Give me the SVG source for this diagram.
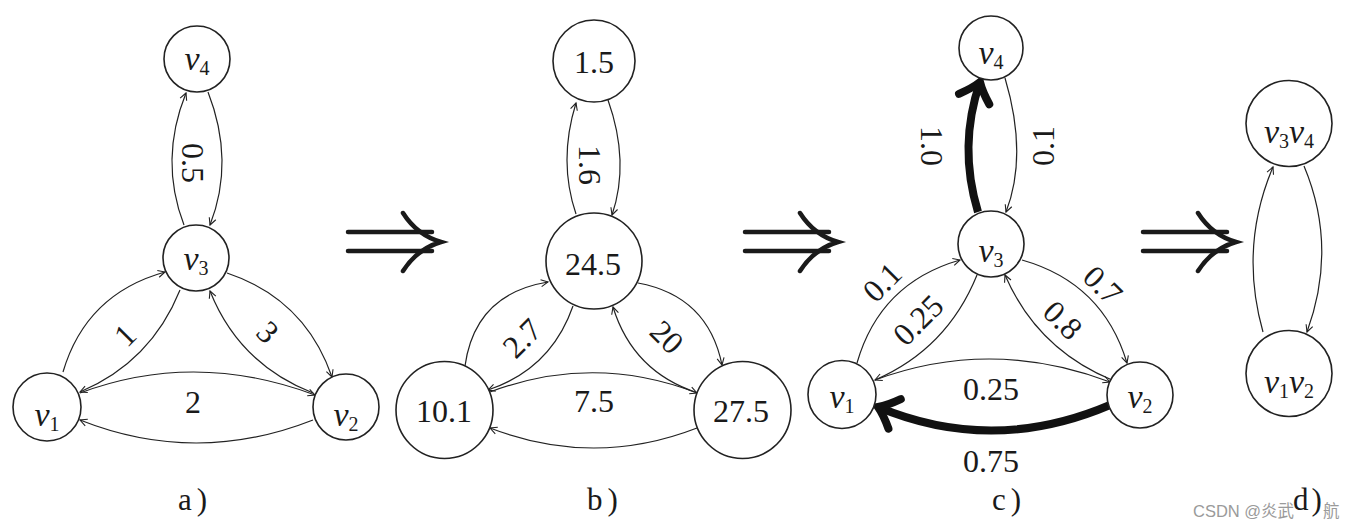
<svg xmlns="http://www.w3.org/2000/svg" width="1345" height="529" viewBox="0 0 1345 529">
<style>
  .nd { fill: #fff; stroke: #222; stroke-width: 1.6; }
  .e { fill: none; stroke: #222; stroke-width: 1.2; marker-end: url(#ah); }
  .et { fill: none; stroke: #111; stroke-width: 8; marker-end: url(#ahT); }
  .t { font-family: "Liberation Serif", "Times New Roman", serif; font-size: 32px; fill: #1a1a1a; text-anchor: middle; }
  .v { font-family: "Liberation Serif", "Times New Roman", serif; font-size: 34px; font-style: italic; fill: #1a1a1a; text-anchor: middle; }
  .s { font-style: normal; font-size: 20px; }
  .imp line, .imp path { fill: none; stroke: #1a1a1a; stroke-width: 4.5; stroke-linecap: round; }
  .cap { font-family: "Liberation Serif", "Times New Roman", serif; font-size: 31px; fill: #1a1a1a; }
  .wm { font-family: "Liberation Sans", "Noto Sans CJK SC", sans-serif; font-size: 16.5px; fill: #9a9a9a; }
</style>
<defs>
  <marker id="ah" viewBox="-10 -6 12 12" refX="0" refY="0" markerWidth="12" markerHeight="12" orient="auto" markerUnits="userSpaceOnUse">
    <path d="M-7,-3.5 L0,0 L-7,3.5" fill="none" stroke="#222" stroke-width="1.1"/>
  </marker>
  <marker id="ahT" viewBox="-26 -26 32 52" refX="0" refY="0" markerWidth="32" markerHeight="52" orient="auto" markerUnits="userSpaceOnUse" overflow="visible">
    <path d="M-18,-16 Q-8,-5 0,0 Q-8,5 -18,16" fill="none" stroke="#111" stroke-width="8" stroke-linecap="round"/>
  </marker>
</defs>
<rect width="1345" height="529" fill="#fff"/>

<g id="connectors">
  <!-- panel a -->
  <path class="e" d="M184,225 Q159,160 186,93"/>
  <path class="e" d="M208,92 Q235,161 210,225"/>
  <path class="e" d="M63,372 Q86,294 165,272"/>
  <path class="e" d="M180,290 Q151,362 80,392"/>
  <path class="e" d="M227,273 Q305,299 332,377"/>
  <path class="e" d="M313,393 Q239,364 210,291"/>
  <path class="e" d="M80,393 Q195,350 315,395"/>
  <path class="e" d="M313,420 Q196,466 80,420"/>
  <!-- panel b -->
  <path class="e" d="M576,214 Q558,161 576,103"/>
  <path class="e" d="M608,100 Q630,162 612,215"/>
  <path class="e" d="M465,366 Q475,294 548,282"/>
  <path class="e" d="M573,306 Q551,369 488,390"/>
  <path class="e" d="M638,283 Q708,296 722,365"/>
  <path class="e" d="M698,393 Q633,372 613,307"/>
  <path class="e" d="M490,392 Q594,353 697,393"/>
  <path class="e" d="M697,428 Q594,468 490,428"/>
  <!-- panel c -->
  <path class="et" d="M978,212 Q958,146 980,82"/>
  <path class="e" d="M1005,78 Q1028,155 1006,212"/>
  <path class="e" d="M857,363 Q880,283 960,260"/>
  <path class="e" d="M977,275 Q947,349 875,380"/>
  <path class="e" d="M1022,260 Q1103,283 1127,363"/>
  <path class="e" d="M1112,380 Q1037,349 1005,275"/>
  <path class="e" d="M875,380 Q991,337 1110,382"/>
  <path class="et" d="M1110,405 Q993,455 878,407"/>
  <!-- panel d -->
  <path class="e" d="M1263,332 Q1239,247 1273,167"/>
  <path class="e" d="M1304,166 Q1338,247 1307,332"/>
</g>

<g id="edge-labels">
  <text class="t" transform="translate(193,163) rotate(90)" y="11">0.5</text>
  <text class="t" transform="translate(125,335) rotate(-45)" y="11">1</text>
  <text class="t" transform="translate(268,332) rotate(45)" y="11">3</text>
  <text class="t" x="193" y="413">2</text>

  <text class="t" transform="translate(590,165) rotate(90)" y="11">1.6</text>
  <text class="t" transform="translate(522,338) rotate(-45)" y="11">2.7</text>
  <text class="t" transform="translate(667,337) rotate(45)" y="11">20</text>
  <text class="t" x="594" y="412">7.5</text>

  <text class="t" transform="translate(932,146) rotate(90)" y="11">1.0</text>
  <text class="t" transform="translate(1043,146) rotate(-90)" y="11">0.1</text>
  <text class="t" transform="translate(882,282) rotate(-45)" y="11">0.1</text>
  <text class="t" transform="translate(918,320) rotate(-45)" y="11">0.25</text>
  <text class="t" transform="translate(1103,285) rotate(45)" y="11">0.7</text>
  <text class="t" transform="translate(1063,320) rotate(45)" y="11">0.8</text>
  <text class="t" x="991" y="400">0.25</text>
  <text class="t" x="991" y="472">0.75</text>
</g>

<!-- panel a nodes -->
<g id="a-v4"><circle class="nd" cx="197" cy="59" r="33"/><text class="v" x="197" y="70">v<tspan class="s" dy="5">4</tspan></text></g>
<g id="a-v3"><circle class="nd" cx="196" cy="258" r="33"/><text class="v" x="196" y="270">v<tspan class="s" dy="5">3</tspan></text></g>
<g id="a-v1"><circle class="nd" cx="47" cy="407" r="34"/><text class="v" x="47" y="426">v<tspan class="s" dy="5">1</tspan></text></g>
<g id="a-v2"><circle class="nd" cx="346" cy="407" r="33"/><text class="v" x="346" y="426">v<tspan class="s" dy="5">2</tspan></text></g>

<!-- panel b nodes -->
<g id="b-n4"><circle class="nd" cx="594" cy="61" r="41"/><text class="t" x="594" y="73">1.5</text></g>
<g id="b-n3"><circle class="nd" cx="594" cy="261" r="48"/><text class="t" x="593" y="275">24.5</text></g>
<g id="b-n1"><circle class="nd" cx="444.5" cy="410" r="48.5"/><text class="t" x="444" y="422">10.1</text></g>
<g id="b-n2"><circle class="nd" cx="742.5" cy="410" r="48.5"/><text class="t" x="741" y="422">27.5</text></g>

<!-- panel c nodes -->
<g id="c-v4"><circle class="nd" cx="991" cy="48" r="32"/><text class="v" x="991" y="64">v<tspan class="s" dy="5">4</tspan></text></g>
<g id="c-v3"><circle class="nd" cx="991" cy="244" r="33"/><text class="v" x="991" y="262">v<tspan class="s" dy="5">3</tspan></text></g>
<g id="c-v1"><circle class="nd" cx="842" cy="394.5" r="34"/><text class="v" x="842" y="408">v<tspan class="s" dy="5">1</tspan></text></g>
<g id="c-v2"><circle class="nd" cx="1140" cy="395" r="33"/><text class="v" x="1140" y="408">v<tspan class="s" dy="5">2</tspan></text></g>

<!-- panel d nodes -->
<g id="d-v3v4"><circle class="nd" cx="1289" cy="123.5" r="43"/><text class="v" x="1289" y="143">v<tspan class="s" dy="5">3</tspan><tspan dy="-5">v</tspan><tspan class="s" dy="5">4</tspan></text></g>
<g id="d-v1v2"><circle class="nd" cx="1289" cy="373.5" r="43"/><text class="v" x="1289" y="393">v<tspan class="s" dy="5">1</tspan><tspan dy="-5">v</tspan><tspan class="s" dy="5">2</tspan></text></g>

<!-- implication arrows -->
<g id="implies" class="imp">
  <line x1="348" y1="232" x2="432" y2="232"/><line x1="348" y1="251" x2="432" y2="251"/>
  <path d="M403,213 Q417,235 441,242 Q417,249 403,271"/>
  <line x1="745" y1="232" x2="829" y2="232"/><line x1="745" y1="251" x2="829" y2="251"/>
  <path d="M800,213 Q814,235 838,242 Q814,249 800,271"/>
  <line x1="1143" y1="232" x2="1227" y2="232"/><line x1="1143" y1="251" x2="1227" y2="251"/>
  <path d="M1198,213 Q1212,235 1236,242 Q1212,249 1198,271"/>
</g>

<g id="captions">
  <text class="wm" x="1193" y="517">CSDN @炎武</text>
  <text class="wm" x="1323" y="517">航</text>
  <text class="cap" x="178" y="510">a<tspan dx="5">)</tspan></text>
  <text class="cap" x="587" y="510">b<tspan dx="5">)</tspan></text>
  <text class="cap" x="992" y="510">c<tspan dx="5">)</tspan></text>
  <text class="cap" x="1293" y="510">d<tspan dx="3">)</tspan></text>
</g>
</svg>
